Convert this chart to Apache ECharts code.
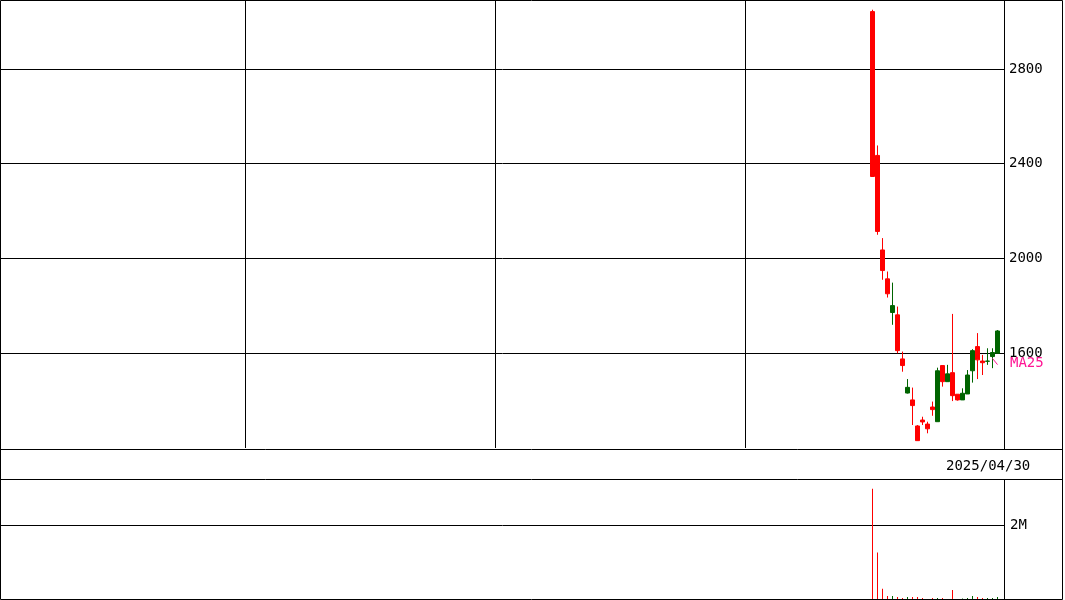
<!DOCTYPE html>
<html>
<head>
<meta charset="utf-8">
<script src="https://cdn.jsdelivr.net/npm/echarts@6/dist/echarts.min.js"></script>
<style>
html,body{margin:0;padding:0;background:#fff;}
#c{width:1065px;height:600px;}
</style>
</head>
<body>
<div id="c"></div>
<script>
// ---- data ----
const dates = [
  '2025/03/25','2025/03/26','2025/03/27','2025/03/28','2025/03/31',
  '2025/04/01','2025/04/02','2025/04/03','2025/04/04','2025/04/07',
  '2025/04/08','2025/04/09','2025/04/10','2025/04/11','2025/04/14',
  '2025/04/15','2025/04/16','2025/04/17','2025/04/18','2025/04/21',
  '2025/04/22','2025/04/23','2025/04/24','2025/04/25','2025/04/28',
  '2025/04/30'
];
const opens  = [3042,2435,2036,1914,1772,1762,1576,1432,1403,1293,1318,1301,1373,1311,1548,1480,1518,1427,1403,1428,1526,1628,1567,1566,1586,1600];
const closes = [2346,2114,1949,1851,1801,1611,1548,1456,1379,1231,1310,1281,1362,1526,1480,1513,1421,1403,1431,1508,1611,1572,1560,1567,1603,1694];
const lows   = [2346,2100,1910,1835,1720,1600,1522,1430,1297,1231,1297,1262,1336,1311,1459,1480,1398,1400,1403,1428,1476,1491,1508,1551,1537,1600];
const highs  = [3050,2477,2086,1945,1898,1797,1607,1491,1455,1297,1332,1311,1396,1539,1548,1551,1766,1427,1452,1529,1617,1685,1593,1621,1621,1698];
const volumes = [2970000,1270000,300000,107000,107000,80000,54000,80000,80000,80000,54000,20000,54000,54000,54000,20000,270000,20000,40000,54000,107000,80000,54000,54000,54000,80000];
const ma25 = [null,null,null,null,null,null,null,null,null,null,null,null,null,null,null,null,null,null,null,null,null,null,null,null,1578,1552];
const priceTicks = [1600,2000,2400,2800];
const volumeTicks = [2000000];
const maLabel = 'MA25';

// ---- layout / styles ----
const SLOTS = 201;
const FIRST = 174;
const RED = '#ff0000';
const GREEN = '#006400';
const PINK = '#ff1493';
const FONT = 'DejaVu Sans Mono';
const FSIZE = 14;

const categories = [];
for (let i = 0; i < SLOTS; i++) {
  const k = i - FIRST;
  categories.push(k >= 0 && k < dates.length ? dates[k] : ('_' + i));
}

const candleData = dates.map((d, i) => [d, opens[i], closes[i], lows[i], highs[i]]);
const volData = dates.map((d, i) => ({
  value: [d, volumes[i]],
  itemStyle: { color: closes[i] >= opens[i] ? GREEN : RED }
}));
const maData = dates.map((d, i) => [d, ma25[i] == null ? '-' : ma25[i]]);

const chart = echarts.init(document.getElementById('c'), null, { renderer: 'canvas' });

const hiddenAxisBits = {
  axisLine: { show: false },
  axisTick: { show: false }
};

const option = {
  animation: false,
  backgroundColor: '#ffffff',
  grid: [
    { left: 0, top: 0, width: 1005, height: 448, show: false },
    { left: 0, top: 480, width: 1005, height: 120, show: false }
  ],
  xAxis: [
    Object.assign({
      type: 'category', gridIndex: 0, data: categories, boundaryGap: true,
      axisLabel: { show: false },
      splitLine: {
        show: true,
        interval: function (idx) { return idx === 49 || idx === 99 || idx === 149; },
        lineStyle: { color: ['#000', '#000', '#000', 'rgba(0,0,0,0)'], width: 1 }
      }
    }, hiddenAxisBits),
    Object.assign({
      type: 'category', gridIndex: 1, data: categories, boundaryGap: true,
      axisLabel: { show: false },
      splitLine: { show: false }
    }, hiddenAxisBits)
  ],
  yAxis: [
    Object.assign({
      type: 'value', gridIndex: 0, position: 'right',
      min: 1200, max: 3091, interval: 400, scale: false,
      axisLabel: {
        margin: 4, color: '#000', fontFamily: FONT, fontSize: FSIZE,
        padding: [3, 0, 0, 0],
        formatter: function (v) { return priceTicks.indexOf(v) >= 0 ? String(v) : ''; }
      },
      splitLine: {
        show: true,
        lineStyle: { color: ['rgba(0,0,0,0)', '#000', '#000', '#000', '#000', 'rgba(0,0,0,0)'], width: 1 }
      }
    }, hiddenAxisBits),
    Object.assign({
      type: 'value', gridIndex: 1, position: 'right',
      min: 0, max: 3200000, interval: 2000000,
      axisLabel: {
        margin: 5, color: '#000', fontFamily: FONT, fontSize: FSIZE,
        padding: [3, 0, 0, 0],
        formatter: function (v) { return volumeTicks.indexOf(v) >= 0 ? (v / 1000000) + 'M' : ''; }
      },
      splitLine: {
        show: true,
        lineStyle: { color: ['rgba(0,0,0,0)', '#000', 'rgba(0,0,0,0)'], width: 1 }
      }
    }, hiddenAxisBits)
  ],
  series: [
    {
      type: 'candlestick', name: 'price',
      xAxisIndex: 0, yAxisIndex: 0,
      data: candleData,
      encode: { x: 0, y: [1, 2, 3, 4] },
      barWidth: 4,
      itemStyle: {
        color: GREEN, color0: RED,
        borderColor: GREEN, borderColor0: RED,
        borderWidth: 1
      },
      emphasis: { disabled: true }
    },
    {
      type: 'line', name: maLabel,
      xAxisIndex: 0, yAxisIndex: 0,
      data: maData,
      showSymbol: false, symbol: 'none',
      lineStyle: { color: PINK, width: 1 },
      z: 5
    },
    {
      type: 'bar', name: 'volume',
      xAxisIndex: 1, yAxisIndex: 1,
      data: volData,
      barWidth: 1,
      emphasis: { disabled: true }
    }
  ],
  graphic: [
    { type: 'rect', z: 100, silent: true, shape: { x: 0.5, y: 0.5, width: 1062, height: 599 }, style: { fill: 'none', stroke: '#000', lineWidth: 1 } },
    { type: 'line', z: 100, silent: true, shape: { x1: 0, y1: 449.5, x2: 1063, y2: 449.5 }, style: { stroke: '#000', lineWidth: 1 } },
    { type: 'line', z: 100, silent: true, shape: { x1: 0, y1: 479.5, x2: 1063, y2: 479.5 }, style: { stroke: '#000', lineWidth: 1 } },
    { type: 'line', z: 100, silent: true, shape: { x1: 1004.5, y1: 0, x2: 1004.5, y2: 449.5 }, style: { stroke: '#000', lineWidth: 1 } },
    { type: 'line', z: 100, silent: true, shape: { x1: 1004.5, y1: 479.5, x2: 1004.5, y2: 600 }, style: { stroke: '#000', lineWidth: 1 } },
    { type: 'text', z: 100, silent: true, x: 946, y: 466, style: { text: dates[dates.length - 1], fill: '#000', font: FSIZE + 'px "' + FONT + '"', verticalAlign: 'middle', align: 'left' } },
    { type: 'text', z: 100, silent: true, x: 1010, y: 363, style: { text: maLabel, fill: PINK, font: FSIZE + 'px "' + FONT + '"', verticalAlign: 'middle', align: 'left' } }
  ]
};

chart.setOption(option);
</script>
</body>
</html>
